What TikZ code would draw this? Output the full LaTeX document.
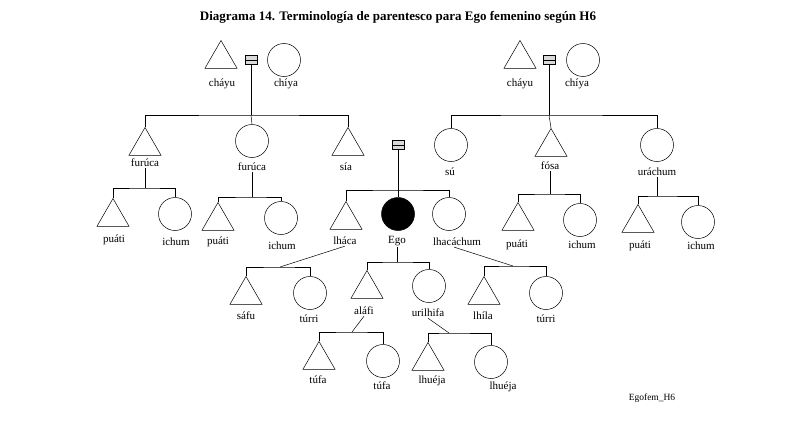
\documentclass[tikz,border=0pt]{standalone}
\usepackage{fontspec}
\setmainfont{Liberation Serif}
\usetikzlibrary{shapes.geometric}
\begin{document}
\begin{tikzpicture}[x=1pt,y=-1pt,line width=0.5pt,
  tri/.style={draw,regular polygon,regular polygon sides=3,minimum size=37,inner sep=0,anchor=north},
  cir/.style={draw,circle,minimum size=33,inner sep=0},
  lab/.style={font=\fontsize{11}{13}\selectfont,inner sep=1pt},
  eq/.style={draw,fill=gray!30,minimum width=12,minimum height=9,inner sep=0,path picture={\draw (path picture bounding box.west) -- (path picture bounding box.east);}}]
\useasboundingbox (0,0) rectangle (797,423);
\node[font=\bfseries\fontsize{13}{15}\selectfont] (title) at (398,17) {Diagrama 14. Terminología de parentesco para Ego femenino según H6};
% top left
\node[tri] (t1) at (221,40) {}; \node[eq] (e1) at (251,60) {}; \node[cir] (c1) at (284,60) {};
\node[lab] (l1) at (222,84) {cháyu}; \node[lab] (l2) at (286,84) {chíya};
\coordinate (b1) at (251,115);
\node[tri] (t2) at (145,127) {}; \node[cir] (c2) at (252,141) {}; \node[tri] (t3) at (348,127) {};
\draw (e1.south) -- (b1); \draw (t2.north) |- (b1) -| (t3.north); \draw (b1) -- (c2.north);
\node[lab] (l3) at (145,163) {furúca}; \node[lab] (l4) at (252,167) {furúca}; \node[lab] (l5) at (346,167) {sía};
\coordinate (b2) at (145,188);
\node[tri] (t4) at (113,198) {}; \node[cir] (c4) at (175,214) {};
\draw (l3.south) -- (b2); \draw (t4.north) |- (b2) -| (c4.north);
\node[lab] (l6) at (114,240) {puáti}; \node[lab] (l7) at (176,242) {ichum};
\coordinate (b3) at (252,197);
\node[tri] (t5) at (218,202) {}; \node[cir] (c5) at (281,218) {};
\draw (l4.south) -- (b3); \draw (t5.north) |- (b3) -| (c5.north);
\node[lab] (l8) at (218,242) {puáti}; \node[lab] (l9) at (282,246) {ichum};
% center
\node[eq] (e2) at (398,145) {};
\coordinate (b4) at (398,190);
\node[tri] (t6) at (346,201) {}; \node[cir,fill=black] (ego) at (398,214) {}; \node[cir] (c6) at (449,214) {};
\draw (e2.south) -- (ego.north); \draw (t6.north) |- (b4) -| (c6.north);
\node[lab] (l10) at (345,241) {lháca}; \node[lab] (l11) at (397,241) {Ego}; \node[lab] (l12) at (457,242) {lhacáchum};
% right top
\node[tri] (t7) at (520,40) {}; \node[eq] (e3) at (549,60) {}; \node[cir] (c7) at (583,60) {};
\node[lab] (l13) at (520,84) {cháyu}; \node[lab] (l14) at (577,84) {chíya};
\coordinate (b5) at (549,115);
\node[cir] (c8) at (451,145) {}; \node[tri] (t8) at (551,128) {}; \node[cir] (c9) at (657,145) {};
\draw (e3.south) -- (b5); \draw (c8.north) |- (b5) -| (c9.north); \draw (b5) -- (t8.north);
\node[lab] (l15) at (450,172) {sú}; \node[lab] (l16) at (550,166) {fósa}; \node[lab] (l17) at (657,172) {uráchum};
\coordinate (b6) at (550,194);
\node[tri] (t9) at (518,202) {}; \node[cir] (c10) at (580,220) {};
\draw (l16.south) -- (b6); \draw (t9.north) |- (b6) -| (c10.north);
\node[lab] (l18) at (517,245) {puáti}; \node[lab] (l19) at (582,245) {ichum};
\coordinate (b7) at (657,196);
\node[tri] (t10) at (638,204) {}; \node[cir] (c11) at (698,222) {};
\draw (l17.south) -- (b7); \draw (t10.north) |- (b7) -| (c11.north);
\node[lab] (l20) at (640,246) {puáti}; \node[lab] (l21) at (701,246) {ichum};
% lower
\coordinate (b8) at (280,267);
\node[tri] (t11) at (246,276) {}; \node[cir] (c12) at (310,293) {};
\draw (l10.south) -- (b8); \draw (t11.north) |- (b8) -| (c12.north);
\node[lab] (l22) at (246,316) {sáfu}; \node[lab] (l23) at (309,319) {túrri};
\coordinate (b9) at (397,262);
\node[tri] (t12) at (367,270) {}; \node[cir] (c13) at (429,286) {};
\draw (l11.south) -- (b9); \draw (t12.north) |- (b9) -| (c13.north);
\node[lab] (l24) at (364,311) {aláfi}; \node[lab] (l25) at (428,313) {urilhifa};
\coordinate (b10) at (513,266);
\node[tri] (t13) at (484,276) {}; \node[cir] (c14) at (546,293) {};
\draw (l12.south east) ++(-28,0) -- (b10); \draw (t13.north) |- (b10) -| (c14.north);
\node[lab] (l26) at (483,316) {lhíla}; \node[lab] (l27) at (546,319) {túrri};
\coordinate (b11) at (352,332);
\node[tri] (t14) at (319,341) {}; \node[cir] (c15) at (383,361) {};
\draw (l24.south) -- (b11); \draw (t14.north) |- (b11) -| (c15.north);
\node[lab] (l28) at (318,380) {túfa}; \node[lab] (l29) at (382,386) {túfa};
\coordinate (b12) at (449,333);
\node[tri] (t15) at (428,342) {}; \node[cir] (c16) at (491,362) {};
\draw (l25.south) -- (b12); \draw (t15.north) |- (b12) -| (c16.north);
\node[lab] (l30) at (432,381) {lhuéja}; \node[lab] (l31) at (503,387) {lhuéja};
\node[font=\fontsize{9.5}{11}\selectfont] (egofem) at (652,398) {Egofem\_H6};
\end{tikzpicture}
\end{document}
